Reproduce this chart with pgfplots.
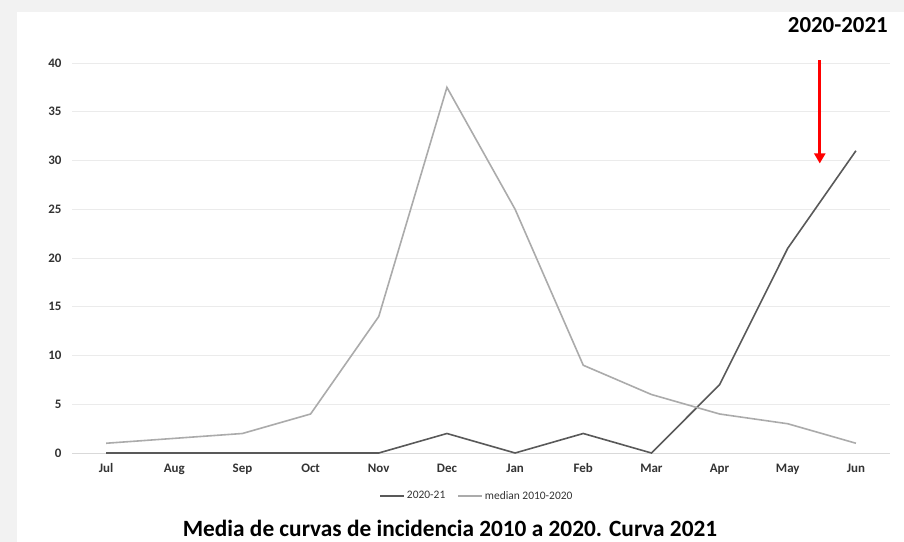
\documentclass[border=0pt]{standalone}
\usepackage{pgfplots}
\pgfplotsset{compat=1.18}
\usepackage{fontspec}
\setmainfont{Carlito}
\usetikzlibrary{arrows.meta}
\definecolor{bggray}{HTML}{F2F2F2}
\definecolor{darkline}{HTML}{595959}
\definecolor{lightline}{HTML}{ABABAB}
\definecolor{gridc}{HTML}{EBEBEB}
\definecolor{axc}{HTML}{D9D9D9}
\definecolor{labc}{HTML}{333333}
\begin{document}
\begin{tikzpicture}
\useasboundingbox (0,0) rectangle (904bp,542bp);
\fill[bggray] (0,0) rectangle (904bp,542bp);
\fill[white] (17bp,0) rectangle (904bp,530bp);
\begin{axis}[
  at={(72bp,89bp)}, anchor=south west,
  scale only axis, width=818bp, height=390bp,
  xmin=-0.5, xmax=11.5, ymin=0, ymax=40,
  xtick={0,...,11},
  xticklabels={Jul,Aug,Sep,Oct,Nov,Dec,Jan,Feb,Mar,Apr,May,Jun},
  ytick={0,5,...,40},
  ymajorgrids, grid style={gridc, line width=0.6bp},
  axis x line=bottom, axis y line=left,
  x axis line style={axc, line width=0.8bp, -},
  y axis line style={draw=none},
  major tick length=0pt,
  tick label style={font=\fontsize{13}{15}\selectfont\bfseries, text=labc},
  yticklabel style={xshift=-7bp},
  xticklabel style={yshift=-8bp, text height=0.8em, text depth=0.25em},
  /pgf/number format/assume math mode=true,
  clip=false,
  legend style={draw=none, fill=none, at={(0.495,-0.087)}, anchor=north,
    legend columns=2, font=\fontsize{11.5}{13}\selectfont, text=labc,
    /tikz/every even column/.append style={column sep=10bp}},
  legend image code/.code={\draw[#1] (0bp,0bp) -- (24bp,0bp);},
]
\addplot[darkline, line width=1.6bp] coordinates {
(0,0) (1,0) (2,0) (3,0) (4,0) (5,2) (6,0) (7,2) (8,0) (9,7) (10,21) (11,31)};
\addlegendentry{2020-21}
\addplot[lightline, line width=1.6bp] coordinates {
(0,1) (1,1.5) (2,2) (3,4) (4,14) (5,37.5) (6,25) (7,9) (8,6) (9,4) (10,3) (11,1)};
\addlegendentry{median 2010-2020}
\draw[red, line width=2.6bp, -{Triangle[width=11bp,length=10bp]}] (axis cs:10.47,40.3) -- (axis cs:10.47,29.7);
\end{axis}
\node[anchor=east, font=\fontsize{23}{26}\selectfont\bfseries, inner sep=0pt] at (888bp,517bp) {2020-2021};
\node[font=\fontsize{23.4}{26}\selectfont\bfseries, inner sep=0pt] at (450bp,14bp) {Media de curvas de incidencia 2010 a 2020. Curva 2021};
\end{tikzpicture}
\end{document}
